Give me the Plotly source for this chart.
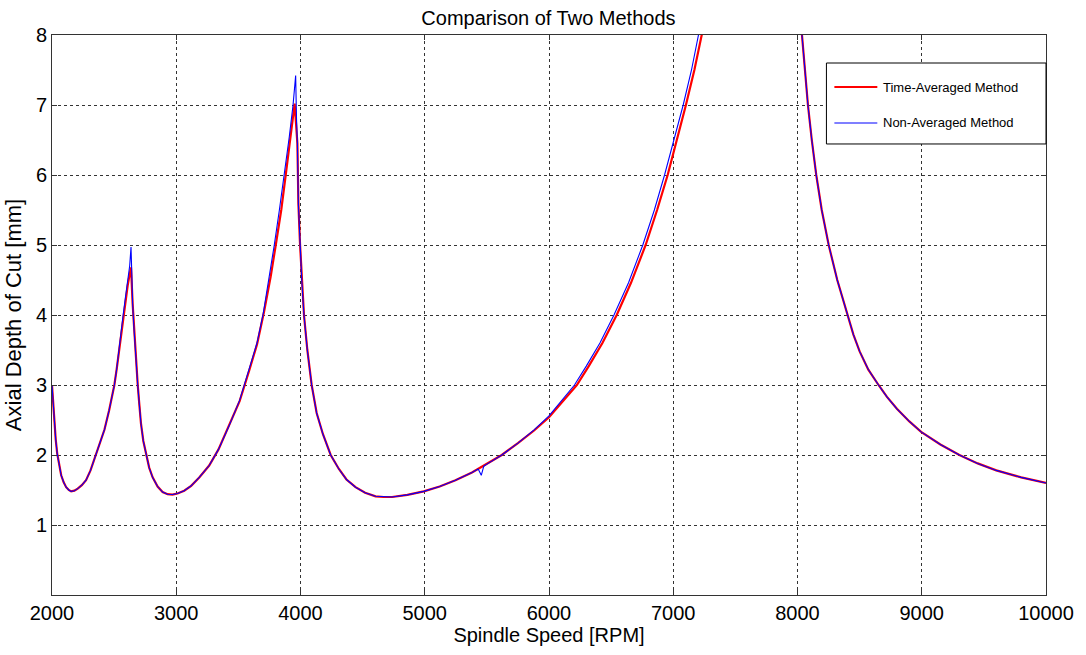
import plotly.graph_objects as go

# Time-averaged method: spindle speed [RPM] vs. stable axial depth of cut [mm]
rpm_avg = [2000, 2010, 2020, 2030, 2042, 2058, 2074, 2094, 2114, 2135, 2154, 2180,
           2207, 2240, 2274, 2310, 2350, 2390, 2422, 2460, 2502, 2520, 2535, 2550,
           2569, 2590, 2609, 2625, 2636, 2649, 2660, 2671, 2690, 2703, 2716, 2735,
           2757, 2782, 2810, 2850, 2890, 2930, 2970, 3010, 3064, 3120, 3185, 3265,
           3340, 3426, 3510, 3586, 3650, 3707, 3760, 3801, 3845, 3881, 3920, 3953,
           3975, 3983, 3996, 4010, 4028, 4055, 4090, 4130, 4180, 4243, 4309, 4370,
           4443, 4520, 4604, 4670, 4737, 4860, 4992, 5120, 5247, 5380, 5500, 5620,
           5750, 5880, 6000, 6110, 6224, 6320, 6430, 6545, 6660, 6778, 6870, 6955,
           7030, 7102, 7170, 7233, 7300, 7980, 8036, 8060, 8084, 8115, 8151, 8195,
           8251, 8320, 8400, 8450, 8500, 8570, 8652, 8720, 8800, 8900, 8995, 9150,
           9303, 9450, 9600, 9800, 10000]
depth_avg = [3.00, 2.70, 2.42, 2.22, 2.02, 1.84, 1.71, 1.61, 1.54, 1.50, 1.48, 1.49,
             1.52, 1.57, 1.64, 1.78, 1.98, 2.17, 2.36, 2.64, 3.00, 3.22, 3.42, 3.65,
             3.95, 4.22, 4.42, 4.58, 4.68, 4.16, 3.80, 3.45, 3.00, 2.72, 2.45, 2.20,
             2.00, 1.82, 1.68, 1.55, 1.47, 1.44, 1.435, 1.45, 1.49, 1.56, 1.68, 1.85,
             2.08, 2.42, 2.77, 3.20, 3.58, 4.05, 4.55, 5.00, 5.50, 6.00, 6.55, 7.02,
             6.45, 5.59, 5.02, 4.50, 4.00, 3.50, 3.00, 2.60, 2.30, 2.00, 1.80, 1.65,
             1.54, 1.46, 1.41, 1.40, 1.40, 1.43, 1.48, 1.55, 1.64, 1.75, 1.87, 2.00,
             2.17, 2.35, 2.54, 2.76, 3.00, 3.27, 3.60, 4.00, 4.46, 5.00, 5.50, 6.00,
             6.50, 7.00, 7.50, 8.00, 8.60, 8.70, 8.00, 7.50, 7.00, 6.50, 6.00, 5.50,
             5.00, 4.50, 4.00, 3.72, 3.48, 3.22, 3.00, 2.83, 2.66, 2.48, 2.33, 2.15,
             2.00, 1.88, 1.78, 1.68, 1.60]

# Non-averaged method
rpm_non = [2000, 2010, 2020, 2030, 2042, 2058, 2074, 2094, 2114, 2135, 2154, 2180,
           2207, 2240, 2274, 2310, 2350, 2390, 2422, 2460, 2502, 2520, 2535, 2550,
           2569, 2590, 2609, 2625, 2636, 2642, 2649, 2660, 2671, 2690, 2703, 2716,
           2735, 2757, 2782, 2810, 2850, 2890, 2930, 2970, 3010, 3064, 3120, 3185,
           3265, 3340, 3426, 3510, 3586, 3650, 3700, 3750, 3789, 3830, 3870, 3910,
           3940, 3961, 3968, 3975, 3983, 3996, 4010, 4028, 4055, 4090, 4130, 4180,
           4243, 4309, 4370, 4443, 4520, 4604, 4670, 4737, 4860, 4992, 5120, 5247,
           5380, 5430, 5455, 5475, 5500, 5620, 5750, 5880, 6000, 6095, 6205, 6300,
           6410, 6523, 6640, 6755, 6848, 6930, 7008, 7080, 7147, 7207, 7270, 7980,
           8036, 8060, 8084, 8115, 8151, 8195, 8251, 8320, 8400, 8450, 8500, 8570,
           8652, 8720, 8800, 8900, 8995, 9150, 9303, 9450, 9600, 9800, 10000]
depth_non = [3.00, 2.70, 2.42, 2.22, 2.02, 1.84, 1.71, 1.61, 1.54, 1.50, 1.48, 1.49,
             1.52, 1.57, 1.64, 1.78, 1.98, 2.17, 2.36, 2.64, 3.00, 3.22, 3.42, 3.65,
             3.95, 4.24, 4.46, 4.70, 4.97, 4.50, 4.16, 3.80, 3.45, 3.00, 2.72, 2.45,
             2.20, 2.00, 1.82, 1.68, 1.55, 1.47, 1.44, 1.435, 1.45, 1.49, 1.56, 1.68,
             1.85, 2.08, 2.42, 2.78, 3.22, 3.60, 4.02, 4.55, 5.00, 5.50, 6.00, 6.55,
             7.00, 7.42, 6.80, 6.45, 5.59, 5.02, 4.50, 4.00, 3.50, 3.00, 2.60, 2.30,
             2.00, 1.80, 1.65, 1.54, 1.46, 1.41, 1.40, 1.40, 1.43, 1.48, 1.55, 1.64,
             1.75, 1.80, 1.71, 1.84, 1.87, 2.00, 2.17, 2.36, 2.56, 2.77, 3.00, 3.27,
             3.60, 4.00, 4.46, 5.00, 5.50, 6.00, 6.50, 7.00, 7.50, 8.00, 8.60, 8.70,
             8.00, 7.50, 7.00, 6.50, 6.00, 5.50, 5.00, 4.50, 4.00, 3.72, 3.48, 3.22,
             3.00, 2.83, 2.66, 2.48, 2.33, 2.15, 2.00, 1.88, 1.78, 1.68, 1.60]

x_ticks = [2000, 3000, 4000, 5000, 6000, 7000, 8000, 9000, 10000]
y_ticks = [1, 2, 3, 4, 5, 6, 7, 8]

series_names = ["Time-Averaged Method", "Non-Averaged Method"]
series_colors = ["#ff0000", "#0000ff"]
series_widths = [2.2, 1.1]

FONT = "Liberation Sans, Arial, sans-serif"

fig = go.Figure()
fig.add_trace(go.Scatter(x=rpm_avg, y=depth_avg, mode="lines", name=series_names[0],
                         line=dict(color=series_colors[0], width=series_widths[0])))
fig.add_trace(go.Scatter(x=rpm_non, y=depth_non, mode="lines", name=series_names[1],
                         line=dict(color=series_colors[1], width=series_widths[1])))

axis_common = dict(
    showline=True, linecolor="#333333", linewidth=1, mirror="ticks",
    ticks="inside", ticklen=5, tickcolor="#333333",
    showgrid=True, gridcolor="#333333", gridwidth=1, griddash="3px,3px",
    zeroline=False, tickfont=dict(family=FONT, size=20, color="black"),
)

fig.update_xaxes(range=[2000, 10000], tickvals=x_ticks,
                 ticktext=[str(v) for v in x_ticks],
                 title=dict(text="Spindle Speed [RPM]", font=dict(family=FONT, size=20, color="black"),
                            standoff=4),
                 **axis_common)
fig.update_yaxes(range=[0, 8], tickvals=y_ticks,
                 ticktext=[str(v) for v in y_ticks],
                 title=dict(text="Axial Depth of Cut [mm]", font=dict(family=FONT, size=22, color="black"),
                            standoff=8),
                 **axis_common)

# Boxed legend in the upper right corner of the axes
box_x0, box_x1, box_y0, box_y1 = 0.7791, 1.0, 0.8054, 0.95
line_x0, line_x1 = 0.7871, 0.8303
row_y = [0.9071, 0.8429]
fig.add_shape(type="rect", xref="paper", yref="paper", x0=box_x0, x1=box_x1, y0=box_y0, y1=box_y1,
              line=dict(color="black", width=1), fillcolor="white", layer="above")
for name, color, width, yy in zip(series_names, series_colors, series_widths, row_y):
    fig.add_shape(type="line", xref="paper", yref="paper", x0=line_x0, x1=line_x1, y0=yy, y1=yy,
                  line=dict(color=color, width=width), layer="above")
    fig.add_annotation(xref="paper", yref="paper", x=0.8343, y=yy, xanchor="left", yanchor="middle",
                       text=name, showarrow=False, font=dict(family=FONT, size=13, color="black"))

fig.update_layout(
    width=1086, height=655,
    margin=dict(l=52, r=38, t=35, b=60),
    paper_bgcolor="white", plot_bgcolor="white",
    showlegend=False,
    title=dict(text="Comparison of Two Methods", x=0.505, xanchor="center", y=0.972, yanchor="middle",
               font=dict(family=FONT, size=20, color="black")),
)

fig.write_html("out.html")
